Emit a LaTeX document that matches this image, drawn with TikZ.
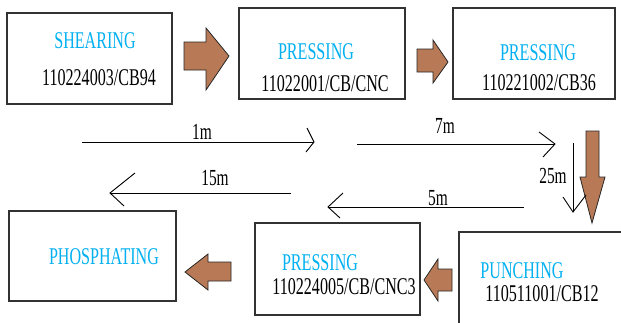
\documentclass[tikz,border=0pt]{standalone}
\usepackage{fontspec}
\usepackage{graphicx}
\setmainfont{Liberation Serif}
\definecolor{cblue}{RGB}{0,176,240}
\definecolor{cbrown}{RGB}{184,122,86}
\definecolor{cline}{RGB}{50,50,50}
\newcommand{\cond}[1]{\scalebox{0.67}[1]{#1}}
\tikzset{
  box/.style={draw=cline, line width=1.1pt, rectangle, inner sep=0pt},
  title/.style={text=cblue, font=\fontsize{24}{24}\selectfont, anchor=base, inner sep=0pt},
  code/.style={text=black, font=\fontsize{24}{24}\selectfont, anchor=base, inner sep=0pt},
  dist/.style={text=black, font=\fontsize{23}{23}\selectfont, anchor=base, inner sep=0pt},
  flow/.style={draw=black!85, fill=cbrown, line width=0.8pt, line join=miter},
  run/.style={draw=black, line width=0.9pt},
}
\begin{document}
\begin{tikzpicture}[x=1pt,y=-1pt]
\useasboundingbox (0,0) rectangle (621,322);

% process boxes
\node[box, minimum width=165pt, minimum height=91pt] (shear) at (89.5,58.5) {};
\node[box, minimum width=166pt, minimum height=91pt] (pressA) at (322,53.5) {};
\node[box, minimum width=162pt, minimum height=91pt] (pressB) at (534,53.5) {};
\node[box, minimum width=167pt, minimum height=90pt] (phos) at (92.5,256) {};
\node[box, minimum width=165pt, minimum height=92pt] (pressC) at (337.5,269) {};
\node[box, minimum width=180pt, minimum height=100pt] (punch) at (549,282) {};

% box texts
\node[title] (t1) at (95,48) {\cond{SHEARING}};
\node[code]  (c1) at (99,85) {\cond{110224003/CB94}};
\node[title] (t2) at (316,59) {\cond{PRESSING}};
\node[code]  (c2) at (325,91) {\cond{11022001/CB/CNC}};
\node[title] (t3) at (538,60) {\cond{PRESSING}};
\node[code]  (c3) at (539,90) {\cond{110221002/CB36}};
\node[title] (t6) at (104,264) {\cond{PHOSPHATING}};
\node[title] (t5) at (320,270) {\cond{PRESSING}};
\node[code]  (c5) at (344,294) {\cond{110224005/CB/CNC3}};
\node[title] (t4) at (522,278) {\cond{PUNCHING}};
\node[code]  (c4) at (542,301) {\cond{110511001/CB12}};

% block arrows between the stations
\draw[flow] (184,42) -- (206,42) -- (206,28) -- (229,56) -- (206,90) -- (206,70) -- (184,70) -- cycle;
\draw[flow] (417,49) -- (433,49) -- (433,40) -- (448,62) -- (433,83) -- (433,72) -- (417,72) -- cycle;
\draw[flow] (586,131) -- (599,131) -- (599,177) -- (605,177) -- (592,223) -- (580,177) -- (586,177) -- cycle;
\draw[flow] (452,269) -- (438,269) -- (438,259) -- (424,280) -- (438,301) -- (438,291) -- (452,291) -- cycle;
\draw[flow] (231,262) -- (208,262) -- (208,254) -- (185,272) -- (208,290) -- (208,281) -- (231,281) -- cycle;

% distance runs
\coordinate (r1s) at (82,142);  \coordinate (r1e) at (314,142);
\coordinate (r2s) at (357,144); \coordinate (r2e) at (555,144);
\coordinate (r3s) at (573,143); \coordinate (r3e) at (573,212);
\coordinate (r4s) at (524,207); \coordinate (r4e) at (328,207);
\coordinate (r5s) at (291,193); \coordinate (r5e) at (110,193);

\draw[run] (r1s) -- (r1e);
\draw[run] (r1e) ++(-7,-14) -- (r1e) -- ++(-8,10);
\draw[run] (r2s) -- (r2e);
\draw[run] (r2e) ++(-16,-12) -- (r2e) -- ++(-12,13);
\draw[run] (r3s) -- (r3e);
\draw[run] (r3e) ++(-10,-15) -- (r3e) -- ++(13,-17);
\draw[run] (r4s) -- (r4e);
\draw[run] (r4e) ++(15,-14) -- (r4e) -- ++(12,11);
\draw[run] (r5s) -- (r5e);
\draw[run] (r5e) ++(25,-20) -- (r5e) -- ++(14,13);

\node[dist] (d1) at (202,139) {\cond{1m}};
\node[dist] (d2) at (445,133) {\cond{7m}};
\node[dist] (d3) at (553,183) {\cond{25m}};
\node[dist] (d4) at (438,205) {\cond{5m}};
\node[dist] (d5) at (215,185) {\cond{15m}};
\end{tikzpicture}
\end{document}
